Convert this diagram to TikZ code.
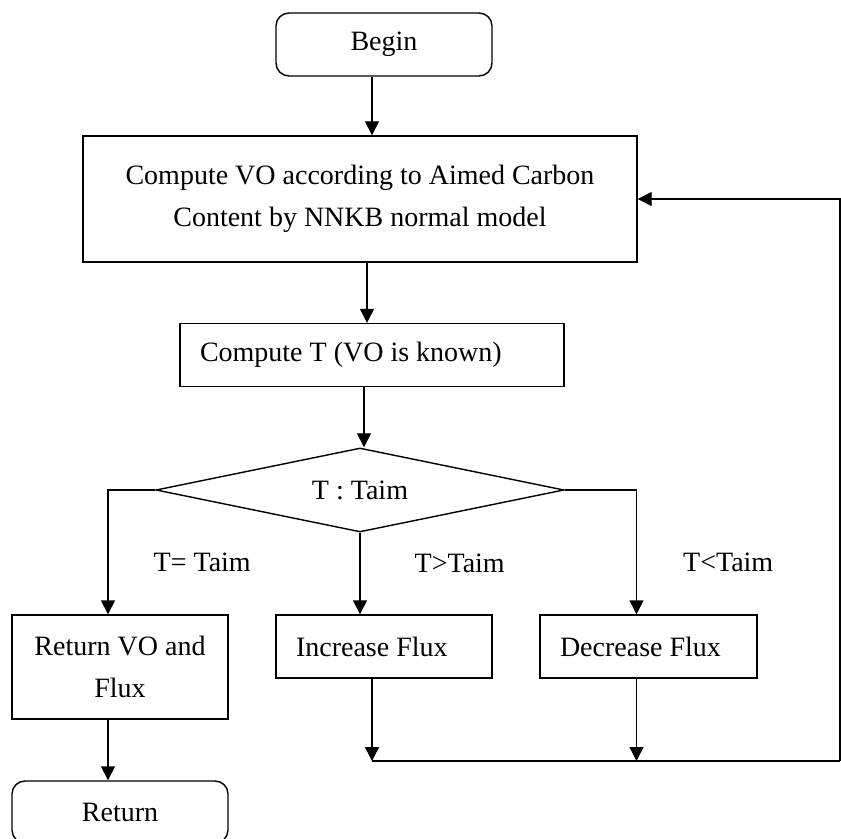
\documentclass[tikz,border=0pt]{standalone}
\usepackage{fontspec}
\setmainfont{Liberation Serif}
\usepackage{tikz}
\usetikzlibrary{arrows.meta, positioning, shapes.geometric}
\tikzstyle{startstop} = [rectangle, rounded corners=6.5pt, minimum width=108pt, minimum height=31.5pt, text centered, draw=black]
\tikzstyle{process}   = [rectangle, align=center, draw=black]
\tikzstyle{action}    = [rectangle, minimum height=31.5pt, inner xsep=10pt, align=flush left, draw=black]
\tikzstyle{decision}  = [diamond, aspect=4.86, minimum width=204pt, minimum height=42pt, inner sep=0pt, text centered, draw=black]
\tikzstyle{arrow}     = [->, >={Triangle[length=7pt,width=7pt]}]
\tikzstyle{lbl}       = [anchor=west, inner sep=0pt]

\begin{document}
\begin{tikzpicture}[node distance=78pt, line width=0.7pt, font=\fontsize{14pt}{21pt}\selectfont]
\useasboundingbox (0,0) rectangle (420.5pt,-419.5pt);
\node (begin) [startstop] at (192pt,-22.25pt) {Begin};
\node (computevo) [process, minimum width=277pt, minimum height=63pt, below of=begin, xshift=-12pt, yshift=0.75pt] {Compute VO according to Aimed Carbon\\Content by NNKB normal model};
\node (computet) [action, text width=172pt, below of=computevo, xshift=6pt] {Compute T (VO is known)};
\node (decide) [decision, below of=computet, xshift=-6pt, yshift=10.5pt] {T : Taim};
\node (increase) [action, text width=88pt, below of=decide, xshift=12pt, yshift=-0.25pt] {Increase Flux};
\node (decrease) [action, text width=88.5pt, right of=increase, xshift=54.25pt] {Decrease Flux};
\node (returnvo) [process, minimum width=108pt, minimum height=52pt, left of=increase, xshift=-54pt, yshift=-10.25pt] {Return VO and\\Flux};
\node (stop) [startstop, minimum height=31pt, below of=returnvo, yshift=5.5pt] {Return};
\coordinate (loop) at (420pt,-380.5pt);
\coordinate (merge) at ([xshift=-6pt]increase.south |- loop);

\draw [arrow] ([xshift=-6pt]begin.south) -- ([xshift=-6pt]begin.south |- computevo.north);
\draw [arrow] ([xshift=3.5pt]computevo.south) -- ([xshift=3.5pt]computevo.south |- computet.north);
\draw [arrow] ([xshift=-4pt]computet.south) -- ([xshift=-4pt]computet.south |- decide.north);
\draw [arrow] (decide.west) -| ([xshift=-6pt]returnvo.north) node[lbl, pos=0.79, xshift=22.5pt]{T= Taim};
\draw [arrow] (decide.south) -- (decide.south |- increase.north) node[lbl, pos=0.37, xshift=27pt]{T>Taim};
\draw [arrow] (decide.east) -| ([xshift=-6pt]decrease.north) node[lbl, pos=0.79, xshift=23pt]{T<Taim};
\draw [arrow] ([xshift=-6pt]returnvo.south) -- ([xshift=-6pt]stop.north);
\draw [arrow] ([xshift=-6pt]increase.south) -- (merge);
\draw [arrow] ([xshift=-6pt]decrease.south) -- ([xshift=-6pt]decrease.south |- loop);
\draw (merge) -- (loop);
\draw [arrow] (loop) |- (computevo.east);
\end{tikzpicture}
\end{document}
